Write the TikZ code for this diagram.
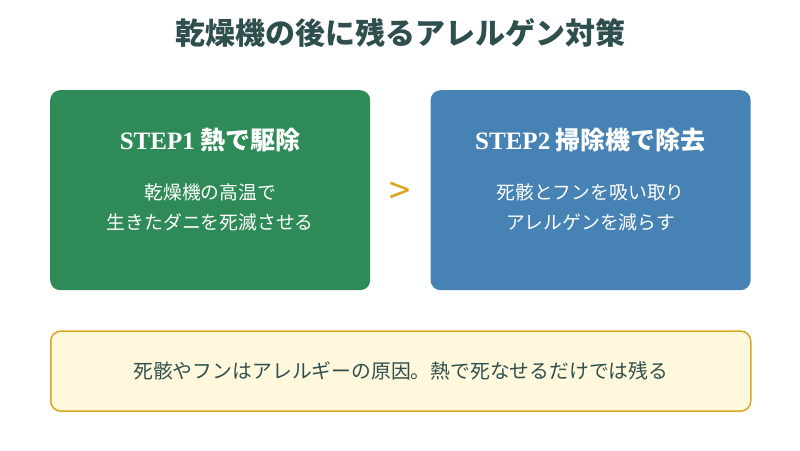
\documentclass[tikz,border=0pt]{standalone}
\usepackage{fontspec}
\setmainfont{Noto Sans CJK JP}
\newfontfamily\pasofont{Liberation Serif}
\usetikzlibrary{positioning}
\definecolor{pizarra}{HTML}{2F4F4F}
\definecolor{verdemar}{HTML}{2E8B57}
\definecolor{acero}{HTML}{4682B4}
\definecolor{dorado}{HTML}{DAA520}
\definecolor{crema}{HTML}{FFF8DC}
\tikzset{
  paso/.style={draw=none,rounded corners=10pt,minimum width=320pt,minimum height=200pt,inner sep=0pt},
  aviso/.style={draw=dorado,line width=1.5pt,fill=crema,rounded corners=10pt,minimum width=700pt,minimum height=80pt,
    inner sep=0pt,font=\fontsize{19.8}{22}\selectfont,text=pizarra},
  titulo/.style={font=\fontsize{30}{34}\selectfont\bfseries,text=pizarra},
  cabecera/.style={font=\fontsize{25}{28}\selectfont\bfseries,text=white},
  cuerpo/.style={font=\fontsize{18.8}{30}\selectfont,text=white,align=center},
  signo/.style={font=\fontsize{38}{40}\selectfont,text=dorado},
}
\begin{document}
\begin{tikzpicture}[x=1pt,y=1pt,
  verde/.style={paso,fill=verdemar},
  azul/.style={paso,fill=acero}]
  \useasboundingbox (0,0) rectangle (800,-450);
  \node[titulo] (tit) at (400,-33) {乾燥機の後に残るアレルゲン対策};
  \node[verde,anchor=north west] (paso1) at (50,-90) {};
  \node[azul,right=60pt of paso1] (paso2) {};
  \node[aviso,below=40pt of paso1.south west,anchor=north west] (nota) {死骸やフンはアレルギーの原因。熱で死なせるだけでは残る};
  \node[cabecera] (cab1) at ([yshift=-50pt]paso1.north) {{\pasofont STEP1} 熱で駆除};
  \node[cuerpo] (txt1) at ([yshift=-117pt]paso1.north) {乾燥機の高温で\\生きたダニを死滅させる};
  \node[cabecera] (cab2) at ([yshift=-50pt]paso2.north) {{\pasofont STEP2} 掃除機で除去};
  \node[cuerpo] (txt2) at ([yshift=-117pt]paso2.north) {死骸とフンを吸い取り\\アレルゲンを減らす};
  \path (paso1) -- node[signo,yshift=-3pt] (mayor) {>} (paso2);
\end{tikzpicture}
\end{document}
